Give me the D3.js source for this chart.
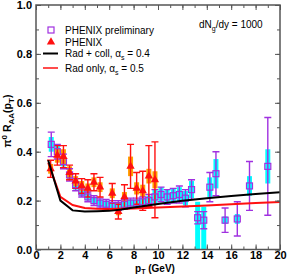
<!DOCTYPE html>
<html>
<head>
<meta charset="utf-8">
<script src="https://cdn.jsdelivr.net/npm/d3@7"></script>
<style>
  body { margin: 0; background: #fff; }
  svg { display: block; font-family: "Liberation Sans", Arial, sans-serif; }
</style>
</head>
<body>
<div id="chart"></div>
<script>
(function() {
    "use strict";

    // PHENIX preliminary (purple squares, cyan systematic boxes)
    var prelimPt   = [1.25, 1.75, 2.25, 2.75, 3.25, 3.75, 4.25, 4.75, 5.25, 5.75, 6.25, 6.75, 7.25, 7.75, 8.25, 8.75, 9.25, 9.75,
                      10.25, 10.75, 11.25, 11.75, 12.25, 12.75, 13.25, 13.75, 14.25, 14.75, 15.5, 16.5, 17.5, 19];
    var prelimVal  = [0.43, 0.40, 0.36, 0.305, 0.265, 0.235, 0.215, 0.20, 0.19, 0.185, 0.18, 0.18, 0.185, 0.19, 0.19, 0.195, 0.20, 0.215,
                      0.225, 0.215, 0.22, 0.225, 0.21, 0.245, 0.13, 0.12, 0.255, 0.31, 0.12, 0.125, 0.26, 0.34];
    var prelimStat = [0.05, 0.03, 0.03, 0.025, 0.025, 0.02, 0.02, 0.02, 0.02, 0.02, 0.02, 0.02, 0.02, 0.02, 0.02, 0.02, 0.025, 0.03,
                      0.03, 0.03, 0.03, 0.035, 0.035, 0.04, 0.025, 0.035, 0.06, 0.09, 0.05, 0.07, 0.1, 0.2];
    var prelimSysLo = [0.03, 0.025, 0.02, 0.02, 0.02, 0.018, 0.015, 0.015, 0.015, 0.015, 0.015, 0.015, 0.015, 0.015, 0.015, 0.015, 0.02, 0.03,
                       0.03, 0.03, 0.03, 0.03, 0.03, 0.035, 0.13, 0.12, 0.04, 0.06, 0.015, 0.02, 0.04, 0.07];
    var prelimSysHi = [0.03, 0.025, 0.02, 0.02, 0.02, 0.018, 0.015, 0.015, 0.015, 0.015, 0.015, 0.015, 0.015, 0.015, 0.015, 0.015, 0.02, 0.03,
                       0.03, 0.03, 0.03, 0.03, 0.03, 0.035, 0.065, 0.055, 0.04, 0.06, 0.015, 0.02, 0.04, 0.07];

    // PHENIX (red triangles, orange systematic boxes)
    var phenixPt   = [1.2, 1.75, 2.25, 2.75, 3.25, 3.75, 4.25, 4.75, 5.25, 6.25, 6.75, 7.25, 7.75, 8.25, 8.75, 9.25, 9.75];
    var phenixVal  = [0.33, 0.385, 0.38, 0.315, 0.28, 0.26, 0.25, 0.275, 0.255, 0.23, 0.155, 0.215, 0.34, 0.25, 0.24, 0.30, 0.285];
    var phenixStat = [0.035, 0.04, 0.045, 0.03, 0.03, 0.03, 0.035, 0.035, 0.04, 0.04, 0.03, 0.05, 0.09, 0.065, 0.08, 0.125, 0.155];
    var phenixSys  = [0.02, 0.03, 0.03, 0.025, 0.02, 0.02, 0.02, 0.02, 0.02, 0.02, 0.015, 0.02, 0.04, 0.025, 0.025, 0.03, 0.035];

    // Theory curves
    var curvePt  = [1, 2, 3, 4, 5, 6, 7, 8, 9, 10, 12, 14, 16, 18, 20];
    var radColl  = [0.365, 0.20, 0.16, 0.155, 0.156, 0.158, 0.164, 0.172, 0.179, 0.186, 0.199, 0.21, 0.219, 0.227, 0.234];
    var radOnly  = [0.355, 0.215, 0.182, 0.17, 0.167, 0.166, 0.167, 0.168, 0.17, 0.172, 0.176, 0.18, 0.185, 0.19, 0.194];

    var xMajor = [0, 2, 4, 6, 8, 10, 12, 14, 16, 18, 20];
    var xMinor = d3.range(0, 21, 1);
    var yMajor = [0, 0.2, 0.4, 0.6, 0.8, 1.0];
    var yMinor = d3.range(0, 1.01, 0.1);

    var w = 289, h = 277;
    var left = 36, right = 280, top = 5, bottom = 249.5;

    var x = d3.scaleLinear().domain([0, 20]).range([left, right]);
    var y = d3.scaleLinear().domain([0, 1]).range([bottom, top]);

    var svg = d3.select("#chart").append("svg")
        .attr("width", w)
        .attr("height", h);

    var purple = "#a030e0", cyan = "#00ffff", red = "#ff1010", orange = "#ffa000";

    // Clip so the boxes stay inside the frame.
    svg.append("clipPath").attr("id", "plot")
        .append("rect").attr("x", left).attr("y", top)
        .attr("width", right - left).attr("height", bottom - top);
    var plot = svg.append("g").attr("clip-path", "url(#plot)");

    var prelim = prelimPt.map(function(d, i) {
        return {pt: d, v: prelimVal[i], e: prelimStat[i], lo: prelimSysLo[i], hi: prelimSysHi[i]};
    });
    var phenix = phenixPt.map(function(d, i) {
        return {pt: d, v: phenixVal[i], e: phenixStat[i], s: phenixSys[i]};
    });

    // Systematic boxes
    plot.selectAll(".cyanbox").data(prelim).enter().append("rect")
        .attr("x", function(d) { return x(d.pt) - 2.5; })
        .attr("y", function(d) { return y(d.v + d.hi); })
        .attr("width", 5)
        .attr("height", function(d) { return y(Math.max(0, d.v - d.lo)) - y(d.v + d.hi); })
        .attr("fill", cyan);

    plot.selectAll(".orangebox").data(phenix).enter().append("rect")
        .attr("x", function(d) { return x(d.pt) - 2.5; })
        .attr("y", function(d) { return y(d.v + d.s); })
        .attr("width", 5)
        .attr("height", function(d) { return y(d.v - d.s) - y(d.v + d.s); })
        .attr("fill", orange);

    // Error bars with caps
    function errorBars(data, color) {
        var g = plot.append("g").attr("stroke", color).attr("stroke-width", 1.4);
        data.forEach(function(d) {
            var cx = x(d.pt), y1 = y(d.v + d.e), y2 = y(d.v - d.e);
            g.append("line").attr("x1", cx).attr("x2", cx).attr("y1", y1).attr("y2", y2);
            g.append("line").attr("x1", cx - 3.5).attr("x2", cx + 3.5).attr("y1", y1).attr("y2", y1);
            g.append("line").attr("x1", cx - 3.5).attr("x2", cx + 3.5).attr("y1", y2).attr("y2", y2);
        });
    }
    errorBars(prelim, purple);
    errorBars(phenix, red);

    plot.selectAll(".sq").data(prelim).enter().append("rect")
        .attr("x", function(d) { return x(d.pt) - 3; })
        .attr("y", function(d) { return y(d.v) - 3; })
        .attr("width", 6).attr("height", 6)
        .attr("fill", "none").attr("stroke", purple).attr("stroke-width", 1.2);

    var tri = d3.symbol().type(d3.symbolTriangle).size(30);
    plot.selectAll(".tri").data(phenix).enter().append("path")
        .attr("d", tri)
        .attr("transform", function(d) { return "translate(" + x(d.pt) + "," + y(d.v) + ")"; })
        .attr("fill", red);

    // Theory curves
    var line = d3.line()
        .x(function(d) { return x(d[0]); })
        .y(function(d) { return y(d[1]); });
    plot.append("path")
        .attr("d", line(curvePt.map(function(d, i) { return [d, radOnly[i]]; })))
        .attr("fill", "none").attr("stroke", red).attr("stroke-width", 2);
    plot.append("path")
        .attr("d", line(curvePt.map(function(d, i) { return [d, radColl[i]]; })))
        .attr("fill", "none").attr("stroke", "#000").attr("stroke-width", 2);

    // Axes: ticks pointing inward on all four sides
    function styleAxis(g) {
        g.select(".domain").remove();
        g.selectAll("line").attr("stroke", "#555").attr("stroke-width", 1);
        g.selectAll("text").attr("font-size", 11).attr("font-weight", "bold")
            .attr("font-family", "Liberation Sans, Arial, sans-serif").attr("fill", "#000");
    }
    var fmt = d3.format(".1f");

    svg.append("g").attr("transform", "translate(0," + bottom + ")")
        .call(d3.axisBottom(x).tickValues(xMinor).tickSize(-3).tickFormat("")).call(styleAxis);
    svg.append("g").attr("transform", "translate(0," + bottom + ")")
        .call(d3.axisBottom(x).tickValues(xMajor).tickSize(-5).tickPadding(2).tickFormat(d3.format("d"))).call(styleAxis);
    svg.append("g").attr("transform", "translate(0," + top + ")")
        .call(d3.axisTop(x).tickValues(xMinor).tickSize(-3).tickFormat("")).call(styleAxis);
    svg.append("g").attr("transform", "translate(0," + top + ")")
        .call(d3.axisTop(x).tickValues(xMajor).tickSize(-5).tickFormat("")).call(styleAxis);

    svg.append("g").attr("transform", "translate(" + left + ",0)")
        .call(d3.axisLeft(y).tickValues(yMinor).tickSize(-3).tickFormat("")).call(styleAxis);
    svg.append("g").attr("transform", "translate(" + left + ",0)")
        .call(d3.axisLeft(y).tickValues(yMajor).tickSize(-5).tickPadding(4).tickFormat(fmt)).call(styleAxis);
    svg.append("g").attr("transform", "translate(" + right + ",0)")
        .call(d3.axisRight(y).tickValues(yMinor).tickSize(-3).tickFormat("")).call(styleAxis);
    svg.append("g").attr("transform", "translate(" + right + ",0)")
        .call(d3.axisRight(y).tickValues(yMajor).tickSize(-5).tickFormat("")).call(styleAxis);

    // Frame
    svg.append("rect")
        .attr("x", left).attr("y", top)
        .attr("width", right - left).attr("height", bottom - top)
        .attr("fill", "none").attr("stroke", "#555").attr("stroke-width", 1.5);

    // Axis titles
    var xt = svg.append("text").attr("x", 155).attr("y", 271.5)
        .attr("text-anchor", "middle").attr("font-size", 10).attr("font-weight", "bold");
    xt.append("tspan").text("p");
    xt.append("tspan").attr("font-size", 7).attr("dy", 2.5).text("T");
    xt.append("tspan").attr("dy", -2.5).text(" (GeV)");

    var yt = svg.append("text").attr("transform", "translate(11,121) rotate(-90)")
        .attr("text-anchor", "middle").attr("font-size", 10.5).attr("font-weight", "bold");
    yt.append("tspan").text("π");
    yt.append("tspan").attr("font-size", 8).attr("dy", -4).text("0");
    yt.append("tspan").attr("dy", 4).text(" R");
    yt.append("tspan").attr("font-size", 8).attr("dy", 3).text("AA");
    yt.append("tspan").attr("dy", -3).text("(p");
    yt.append("tspan").attr("font-size", 8).attr("dy", 3).text("T");
    yt.append("tspan").attr("dy", -3).text(")");

    // dN/dy annotation
    var ann = svg.append("text").attr("x", 199).attr("y", 28).attr("font-size", 10);
    ann.append("tspan").text("dN");
    ann.append("tspan").attr("font-size", 7).attr("dy", 3).text("g");
    ann.append("tspan").attr("dy", -3).text("/dy = 1000");

    // Legend
    var lg = svg.append("g");
    lg.append("rect").attr("x", 48).attr("y", 27).attr("width", 6).attr("height", 6)
        .attr("fill", "none").attr("stroke", purple).attr("stroke-width", 1.2);
    lg.append("path").attr("d", tri).attr("transform", "translate(51,42)").attr("fill", red);
    lg.append("line").attr("x1", 43).attr("x2", 58).attr("y1", 53.5).attr("y2", 53.5)
        .attr("stroke", "#000").attr("stroke-width", 2);
    lg.append("line").attr("x1", 43).attr("x2", 58).attr("y1", 68).attr("y2", 68)
        .attr("stroke", red).attr("stroke-width", 1.5);

    // parts: [text, dy, fontSize]
    function legendText(ty, parts) {
        var t = lg.append("text").attr("x", 65).attr("y", ty).attr("font-size", 10);
        parts.forEach(function(p) {
            var s = t.append("tspan").text(p[0]);
            if (p[1]) s.attr("dy", p[1]);
            if (p[2]) s.attr("font-size", p[2]);
        });
    }
    legendText(34, [["PHENIX preliminary"]]);
    legendText(46, [["PHENIX"]]);
    legendText(57, [["Rad + coll, α"], ["s", 3, 7], [" = 0.4", -3]]);
    legendText(72, [["Rad only, α"], ["s", 3, 7], [" = 0.5", -3]]);
})();
</script>
</body>
</html>
